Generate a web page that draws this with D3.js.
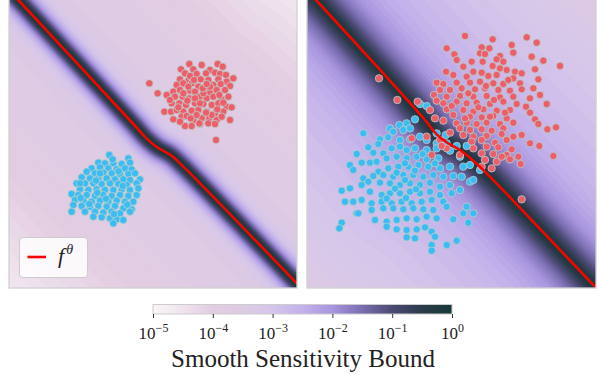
<!DOCTYPE html>
<html>
<head>
<meta charset="utf-8">
<script src="https://cdn.jsdelivr.net/npm/d3@7"></script>
<style>
  body { margin: 0; background: #fff; }
  svg { display: block; }
</style>
</head>
<body>
<svg id="chart" width="597" height="375"></svg>
<script>
// ---- data (feature-space coordinates) ----
const redLeft = [[56.8,19.2],[60.5,19.5],[65.3,19.2],[66.8,20.0],[54.3,20.8],[58.0,20.8],[63.0,21.0],[55.5,22.0],[59.0,22.2],[61.8,22.0],
  [64.5,21.8],[66.0,22.2],[67.8,22.5],[70.0,23.5],[54.0,23.8],[56.5,24.2],[60.2,23.8],[62.5,24.0],[65.5,23.8],[68.0,24.5],
  [53.0,25.5],[55.0,25.0],[57.5,25.0],[59.5,26.0],[64.0,25.5],[66.2,25.2],[69.0,25.8],[44.8,25.0],[47.3,28.0],[50.0,28.5],
  [52.0,27.5],[54.0,27.0],[57.0,27.2],[58.5,27.5],[61.5,27.2],[63.0,27.8],[65.0,27.0],[67.5,27.0],[52.5,29.0],[54.8,29.0],
  [56.8,29.5],[60.0,29.0],[62.0,29.5],[64.0,29.0],[66.5,29.8],[68.5,29.0],[51.5,31.0],[53.8,31.0],[55.8,31.5],[58.5,31.0],
  [61.0,31.2],[63.5,31.5],[65.5,31.0],[68.0,32.0],[69.5,32.2],[49.3,33.5],[51.3,33.5],[53.0,33.0],[55.0,33.5],[57.5,33.2],
  [59.5,33.0],[62.0,33.5],[64.5,34.0],[67.0,33.5],[52.0,35.8],[54.5,35.0],[56.0,34.8],[58.0,36.0],[60.5,35.5],[62.8,35.5],
  [65.0,36.0],[69.0,36.0],[55.5,37.8],[57.5,37.8],[60.0,37.2],[62.5,37.0],[64.5,37.2],[64.8,42.0],[59.0,34.5],[63.5,34.5],
  [61.0,28.0],[65.8,28.5],[51.0,30.0],[56.5,26.0],[54.0,36.5],[66.5,35.0],[58.5,29.5],[60.8,26.5],[55.0,28.0],[63.0,26.0],[60.0,31.0],
  [57.0,22.8],[62.0,25.2],[67.0,30.8],[53.5,32.2],[59.8,37.0],[61.8,33.8],[56.2,30.2],[58.2,24.0],[65.2,32.8],[57.2,35.5]];

const blueLeft = [[32.8,46.5],[38.5,47.5],[39.0,48.8],[29.5,48.8],[31.5,49.0],[34.0,49.0],[36.5,49.2],[27.5,50.5],[30.0,50.2],[32.5,50.5],
  [35.0,50.8],[37.5,50.5],[39.5,50.8],[26.0,51.5],[28.5,52.0],[31.0,51.8],[33.5,52.0],[36.0,52.2],[38.5,52.2],[40.5,52.0],
  [24.5,53.2],[27.0,53.5],[29.5,53.5],[32.0,53.5],[34.5,53.8],[37.0,53.8],[39.0,54.0],[42.0,53.8],[23.0,55.0],[25.5,55.0],
  [28.0,55.0],[30.5,55.2],[33.0,55.0],[35.5,55.2],[38.0,55.5],[41.0,55.0],[24.0,56.8],[26.5,57.0],[29.0,56.8],[31.5,57.0],
  [34.0,57.0],[36.5,56.8],[39.0,57.0],[21.5,58.2],[23.5,58.5],[26.0,58.5],[28.5,58.8],[31.0,58.5],[33.5,58.8],[36.0,58.5],
  [38.5,58.8],[41.0,58.5],[22.5,60.0],[25.0,60.2],[27.5,60.5],[30.0,60.2],[32.5,60.5],[35.0,60.2],[37.5,60.5],[22.0,61.5],
  [24.5,61.8],[27.0,62.0],[29.5,61.8],[32.0,62.0],[34.5,61.8],[37.0,62.5],[39.5,62.8],[21.5,63.5],[28.5,63.5],[31.0,63.8],
  [33.5,63.5],[36.0,64.0],[39.0,63.5],[30.5,65.2],[33.0,65.5],[35.0,65.8],[37.0,66.0],[34.0,67.0],[28.0,65.0],[25.5,63.5],
  [24.0,55.0],[41.5,56.5],[40.0,60.5],[30.0,52.0],
  [33.8,47.8],[28.8,54.2],[36.8,55.8],[31.8,59.6],[26.8,61.2],[34.2,64.2],[38.2,61.4],[29.2,57.8],[35.6,51.4],[24.2,59.4]];

const redRight = [[49.5,10.8],[68.0,11.2],[57.8,11.8],[44.0,14.5],[54.5,14.2],[56.8,14.5],[63.5,13.5],[71.0,12.8],[46.3,16.3],[54.0,16.0],
  [55.5,16.2],[60.0,16.8],[64.0,15.8],[47.0,18.0],[51.5,18.5],[54.8,18.5],[59.0,17.8],[61.0,18.5],[69.5,17.0],[73.0,18.2],
  [78.0,19.8],[49.0,20.0],[57.8,19.8],[52.0,21.5],[54.5,21.8],[60.0,20.5],[62.0,21.0],[64.5,21.5],[66.5,22.0],[70.5,20.8],
  [43.8,21.5],[23.7,23.5],[46.0,22.5],[50.0,23.0],[56.5,22.8],[59.0,22.5],[64.0,23.5],[71.5,23.8],[41.0,24.8],[43.0,25.2],
  [47.0,24.8],[51.0,24.8],[54.0,24.5],[58.0,25.0],[61.0,25.2],[66.0,25.0],[70.0,26.5],[42.0,27.0],[45.0,27.0],[48.5,26.5],
  [52.5,26.8],[55.5,26.5],[59.5,27.0],[63.0,27.2],[66.5,26.8],[40.2,28.5],[44.0,29.0],[48.0,28.8],[52.0,29.0],[56.0,28.8],
  [60.0,29.2],[64.0,29.0],[69.0,29.5],[72.0,28.5],[29.2,30.0],[35.3,30.5],[41.0,30.2],[43.0,31.0],[47.0,30.5],[50.0,31.0],
  [53.0,30.8],[57.0,31.2],[61.0,30.5],[65.0,31.2],[74.0,31.2],[39.0,33.0],[44.0,32.8],[49.0,33.0],[52.0,33.5],[55.0,32.8],
  [59.0,33.2],[63.0,33.0],[69.0,33.8],[46.0,34.5],[51.0,35.0],[54.5,35.2],[58.0,34.8],[62.0,35.5],[70.5,35.8],[43.0,36.2],
  [47.0,37.0],[50.0,36.8],[53.0,37.2],[56.0,36.8],[60.0,37.2],[64.0,36.8],[71.5,37.2],[74.2,38.8],[76.8,38.2],[48.0,38.5],
  [51.0,39.0],[54.5,38.8],[57.5,39.2],[61.0,38.5],[45.0,39.8],[49.0,40.5],[52.0,41.0],[56.0,40.8],[60.5,40.2],[64.0,41.0],
  [66.5,40.5],[38.0,41.0],[42.0,42.0],[51.5,42.5],[54.5,42.0],[58.5,42.8],[62.0,42.0],[69.0,43.0],[71.8,43.8],[44.0,44.5],
  [52.0,44.5],[56.0,44.0],[59.5,44.2],[63.5,44.8],[39.5,46.5],[48.0,46.5],[54.5,46.0],[58.0,46.2],[62.0,46.5],[65.5,47.0],
  [76.0,46.8],[55.5,48.0],[59.0,48.5],[60.5,47.0],[63.0,47.8],[66.2,49.2],[54.5,50.0],[57.5,50.5],[66.5,59.8],[33.5,41.5],
  [40.5,35.5],[42.5,43.8],
  [50.5,28.0],[53.5,32.2],[57.0,35.0],[61.5,33.8],[49.5,35.5],[45.5,31.8],[58.2,30.0],[55.8,25.8],[62.5,24.0],[67.8,32.0]];

const blueRight = [[36.0,31.2],[38.0,31.8],[34.5,35.8],[32.0,37.0],[29.8,37.5],[27.0,38.5],[41.0,40.0],[43.7,40.5],[19.0,40.0],[24.0,41.8],
  [28.0,39.5],[31.0,39.0],[33.0,38.5],[26.5,41.2],[30.0,42.0],[33.0,41.8],[36.0,41.0],[38.0,42.0],[41.0,43.0],[44.0,43.0],
  [47.0,43.8],[50.0,43.8],[20.5,44.2],[23.5,43.2],[22.0,45.8],[25.0,46.0],[27.5,44.5],[30.0,44.0],[32.0,45.0],[34.5,44.5],
  [38.0,45.0],[41.0,44.5],[45.0,45.2],[17.0,46.2],[18.5,48.8],[21.0,48.8],[23.0,48.5],[26.0,47.5],[29.0,47.0],[32.0,47.5],
  [35.0,47.0],[38.0,47.8],[41.5,47.5],[48.0,47.0],[51.0,49.5],[15.0,49.5],[16.0,51.0],[23.5,51.5],[26.5,50.5],[29.5,50.0],
  [32.5,50.0],[35.5,49.5],[38.5,50.0],[42.0,50.5],[45.0,50.0],[49.0,50.0],[54.0,51.0],[19.0,53.5],[22.0,52.8],[25.0,52.5],
  [28.0,53.0],[31.0,52.5],[34.0,52.5],[37.0,53.0],[40.0,52.5],[43.0,53.0],[46.0,52.8],[48.5,53.0],[51.0,54.5],[52.0,54.0],
  [15.0,56.5],[12.5,57.2],[18.5,55.5],[20.5,54.5],[24.0,54.8],[27.0,55.0],[30.0,55.5],[33.0,55.0],[36.0,55.5],[39.0,54.8],
  [42.0,56.0],[45.0,55.5],[21.0,57.5],[24.5,58.5],[27.0,58.0],[30.0,58.0],[33.0,57.5],[36.0,58.0],[39.0,57.5],[42.0,58.5],
  [45.5,58.0],[48.0,57.0],[13.5,60.5],[16.0,60.5],[18.5,60.0],[21.5,61.0],[24.5,60.5],[27.5,61.0],[30.5,60.5],[33.5,61.0],
  [36.5,60.5],[39.5,60.0],[43.0,60.5],[17.0,64.0],[21.5,63.0],[25.0,62.5],[28.0,62.5],[31.0,62.8],[34.0,62.5],[37.0,62.8],
  [40.0,63.0],[44.0,62.0],[49.0,64.0],[52.0,64.0],[50.0,62.0],[12.5,66.8],[11.8,68.5],[17.5,64.0],[26.0,66.5],[29.0,66.0],
  [32.0,65.5],[35.0,65.8],[38.0,65.0],[41.0,65.5],[46.0,65.8],[50.5,66.8],[26.0,68.0],[29.0,68.8],[32.0,69.0],[35.0,68.8],
  [37.5,68.2],[39.5,69.5],[40.5,71.0],[32.0,71.2],[34.5,71.5],[39.5,73.5],[44.0,73.5],[47.0,72.2],[39.5,75.2],[22.5,66.0],
  [31.5,49.0],[34.5,51.2],[29.0,51.8],[36.8,46.2],[31.5,54.0],[28.5,56.6],[34.8,56.8],[40.5,49.0],[26.0,59.6],[31.8,59.4]];

// decision boundary f^theta, one polyline per panel
const boundaryLeft = [[3.6,-2],[5.5,0],[40,37.2],[44,41.6],[47.3,44.3],[51,46.4],[54,49],[89,85],[90.9,87]];
const boundaryRight = [[2.9,-2],[4.8,0],[37.5,36],[41,40.3],[44.3,42.9],[48,45],[52,48.2],[56,52],[88.5,86],[89.5,87]];

// colour bar
const cbarTicks = [1e-5, 1e-4, 1e-3, 1e-2, 1e-1, 1];
const cmapLogs = [-5, -4.5, -4, -3.5, -3, -2.5, -2, -1.5, -1, -0.5, 0];
const cmapColors = ["#f9f6f9", "#efe3ee", "#e3cce1", "#ddcbe4", "#d5c5ea", "#c2b1ea", "#a795df", "#7a6db0", "#4b4a73", "#2b3b4a", "#173a38"];

// ---- setup ----
const svg = d3.select("#chart");
const color = d3.scaleLinear().domain(cmapLogs).range(cmapColors).clamp(true);

const panels = [
  { id: "L", xDomain: [2.7, 89.1], xRange: [9, 297], boundary: boundaryLeft, red: redLeft, blue: blueLeft,
    base: -3.4, fade: 1.2, width: 12, power: 1.5 },
  { id: "R", xDomain: [2.1, 88.8], xRange: [307, 596], boundary: boundaryRight, red: redRight, blue: blueRight,
    base: -2.55, fade: 0.9, width: 22, power: 1 }
];
const yDomain = [0, 86.4], yRange = [0, 288];

function distToPath(px, py, pts) {
  let best = Infinity;
  for (let k = 0; k < pts.length - 1; k++) {
    const [ax, ay] = pts[k], [bx, by] = pts[k + 1];
    const dx = bx - ax, dy = by - ay;
    let t = ((px - ax) * dx + (py - ay) * dy) / (dx * dx + dy * dy);
    t = Math.max(0, Math.min(1, t));
    best = Math.min(best, Math.hypot(ax + t * dx - px, ay + t * dy - py));
  }
  return best;
}

panels.forEach(p => {
  const x = d3.scaleLinear().domain(p.xDomain).range(p.xRange);
  const y = d3.scaleLinear().domain(yDomain).range(yRange);
  const W = p.xRange[1] - p.xRange[0], H = yRange[1] - yRange[0];

  const clipId = "clip" + p.id;
  svg.append("clipPath").attr("id", clipId)
    .append("rect").attr("x", p.xRange[0]).attr("y", yRange[0] - 2).attr("width", W).attr("height", H + 2);
  const g = svg.append("g").attr("clip-path", `url(#${clipId})`);

  // sensitivity field on a grid, filled contours
  const n = 144, m = 144;
  const line = d3.line().x(d => x(d[0])).y(d => y(d[1])).curve(d3.curveCatmullRom);
  // sample the drawn curve so the dark band follows it
  const tmp = svg.append("path").attr("d", line(p.boundary));
  const len = tmp.node().getTotalLength();
  const bpx = d3.range(0, len + 0.001, 3).map(s => { const q = tmp.node().getPointAtLength(s); return [q.x, q.y]; });
  tmp.remove();

  const values = new Array(n * m);
  for (let j = 0; j < m; j++) {
    for (let i = 0; i < n; i++) {
      const px = p.xRange[0] + (i + 0.5) * W / n, py = yRange[0] + (j + 0.5) * H / m;
      const d = distToPath(px, py, bpx);
      const base = p.base - p.fade * Math.pow(d / 200, 1.5);
      const near = Math.exp(-Math.pow(d / p.width, p.power));
      values[i + j * n] = base * (1 - near);
    }
  }
  const thresholds = d3.range(-5, 0.001, 0.1);
  const contours = d3.contours().size([n, m]).thresholds(thresholds)(values);
  const path = d3.geoPath(d3.geoIdentity().scale(W / n).translate([p.xRange[0], yRange[0]]));
  g.append("rect").attr("x", p.xRange[0]).attr("y", yRange[0] - 2).attr("width", W).attr("height", H + 2)
    .attr("fill", color(-5));
  g.selectAll("path.lvl").data(contours).enter().append("path")
    .attr("class", "lvl")
    .attr("d", path)
    .attr("fill", d => color(d.value + 0.05))
    .attr("stroke", d => color(d.value + 0.05))
    .attr("stroke-width", 0.4);

  // scatter
  const pts = g.append("g");
  pts.selectAll("circle.b").data(p.blue).enter().append("circle")
    .attr("class", "b")
    .attr("cx", d => x(d[0])).attr("cy", d => y(d[1])).attr("r", 3.7)
    .attr("fill", "#3cbcf2").attr("stroke", "#b9cfca").attr("stroke-width", 0.8);
  pts.selectAll("circle.r").data(p.red).enter().append("circle")
    .attr("class", "r")
    .attr("cx", d => x(d[0])).attr("cy", d => y(d[1])).attr("r", 3.7)
    .attr("fill", "#ee5e6a").attr("stroke", "#b9cfca").attr("stroke-width", 0.8);

  // boundary line
  g.append("path").datum(p.boundary)
    .attr("d", line)
    .attr("fill", "none").attr("stroke", "#ff0000").attr("stroke-width", 2.6);

  // frame
  svg.append("rect").attr("x", p.xRange[0]).attr("y", yRange[0] - 3).attr("width", W).attr("height", H + 3)
    .attr("fill", "none").attr("stroke", "#d0d0d0").attr("stroke-width", 1.3);
});

// legend (left panel)
const leg = svg.append("g");
leg.append("rect").attr("x", 19.5).attr("y", 237.5).attr("width", 68).attr("height", 40).attr("rx", 3.5)
  .attr("fill", "#ffffff").attr("fill-opacity", 0.85).attr("stroke", "#cccccc").attr("stroke-width", 1);
leg.append("line").attr("x1", 27.5).attr("x2", 46).attr("y1", 257).attr("y2", 257)
  .attr("stroke", "#ff0000").attr("stroke-width", 2.6);
const lt = leg.append("text").attr("x", 58).attr("y", 263)
  .style("font-family", "'Liberation Serif', serif").style("font-style", "italic").style("font-size", "22px").attr("fill", "#222");
lt.append("tspan").text("f");
lt.append("tspan").attr("dx", 2).attr("dy", -9).style("font-size", "14px").text("θ");

// colour bar
const cb = { x0: 153, x1: 452, y0: 304.5, h: 9.5 };
const cbScale = d3.scaleLog().domain([1e-5, 1]).range([cb.x0, cb.x1]);
const grad = svg.append("defs").append("linearGradient").attr("id", "cbgrad");
grad.selectAll("stop").data(d3.range(0, 1.0001, 0.02)).enter().append("stop")
  .attr("offset", d => d)
  .attr("stop-color", d => color(-5 + 5 * d));
svg.append("rect").attr("x", cb.x0).attr("y", cb.y0).attr("width", cb.x1 - cb.x0).attr("height", cb.h)
  .attr("fill", "url(#cbgrad)").attr("stroke", "#cccccc").attr("stroke-width", 1);

const axis = svg.append("g").attr("transform", `translate(0,${cb.y0 + cb.h})`)
  .call(d3.axisBottom(cbScale).tickValues(cbarTicks).tickSize(4).tickFormat(""));
axis.select(".domain").remove();
axis.selectAll(".tick line").attr("stroke", "#333").attr("stroke-width", 1);
axis.selectAll(".tick").each(function(d) {
  const t = d3.select(this).append("text")
    .attr("y", 25).attr("text-anchor", "middle").attr("fill", "#222")
    .style("font-family", "'Liberation Serif', serif").style("font-size", "17px");
  t.append("tspan").text("10");
  t.append("tspan").attr("dy", -7).style("font-size", "12px").text(d === 1 ? "0" : "\u2212" + Math.round(-Math.log10(d)));
});

svg.append("text").attr("x", 303).attr("y", 367).attr("text-anchor", "middle").attr("fill", "#222")
  .style("font-family", "'Liberation Serif', serif").style("font-size", "25px")
  .text("Smooth Sensitivity Bound");
</script>
</body>
</html>
